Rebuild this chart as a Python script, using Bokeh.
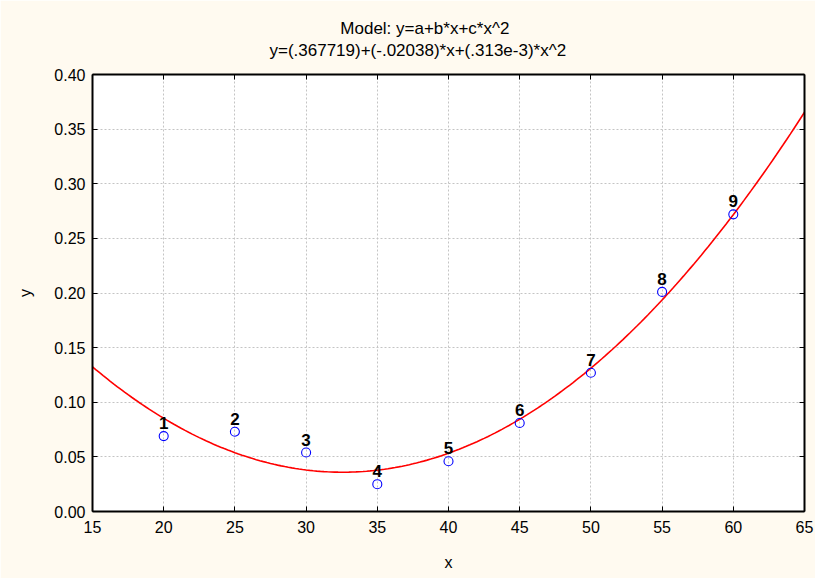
from bokeh.plotting import figure
from bokeh.models import (Range1d, LinearAxis, Title, ColumnDataSource, FixedTicker,
                          Grid, CustomJSTickFormatter)
from bokeh.core.properties import value
from bokeh.embed import file_html
from bokeh.resources import INLINE

# data
x_obs = [20, 25, 30, 35, 40, 45, 50, 55, 60]
y_obs = [0.069, 0.073, 0.054, 0.025, 0.046, 0.081, 0.127, 0.201, 0.272]
point_labels = ["1", "2", "3", "4", "5", "6", "7", "8", "9"]
# fitted model coefficients (from the title)
coef_a = 0.367719
coef_b = -0.02038
coef_c = 0.313e-3
title_lines = ["Model: y=a+b*x+c*x^2", "y=(.367719)+(-.02038)*x+(.313e-3)*x^2"]
x_ticks = [15, 20, 25, 30, 35, 40, 45, 50, 55, 60, 65]
y_ticks = [0.0, 0.05, 0.10, 0.15, 0.20, 0.25, 0.30, 0.35, 0.40]

FONT = "Liberation Sans"
NB = "\u00a0"

p = figure(width=815, height=578, output_backend="svg", toolbar_location=None,
           x_range=Range1d(15, 65), y_range=Range1d(0, 0.40),
           x_axis_type=None, y_axis_type=None,
           min_border_left=92, min_border_right=11, min_border_top=74, min_border_bottom=67)
p.border_fill_color = "#fffaf0"
p.background_fill_color = "white"
p.outline_line_color = None

bx = LinearAxis(ticker=FixedTicker(ticks=x_ticks), axis_label="x")
ly = LinearAxis(ticker=FixedTicker(ticks=y_ticks), axis_label="y")
tx = LinearAxis(ticker=FixedTicker(ticks=x_ticks))
ry = LinearAxis(ticker=FixedTicker(ticks=y_ticks))
for ax in (bx, ly, tx, ry):
    ax.axis_line_color = "black"
    ax.axis_line_width = 2
    ax.major_tick_in = 5
    ax.major_tick_out = 0
    ax.major_tick_line_color = "black"
    ax.minor_tick_line_color = None
    ax.major_label_text_font = FONT
    ax.major_label_text_font_size = "16px"
    ax.major_label_text_color = "black"
    ax.axis_label_text_font = FONT
    ax.axis_label_text_font_size = "16px"
    ax.axis_label_text_font_style = "normal"
    ax.axis_label_text_color = "black"
for ax in (tx, ry):
    ax.formatter = CustomJSTickFormatter(code="return '';")
    ax.major_label_standoff = 0
bx.major_label_standoff = 9
bx.axis_label_standoff = 18
ly.major_label_standoff = 7
ly.axis_label_standoff = 17
ly.formatter = CustomJSTickFormatter(code="return tick.toFixed(2);")
p.add_layout(bx, "below")
p.add_layout(ly, "left")
p.add_layout(tx, "above")
p.add_layout(ry, "right")

for dim, tk in ((0, x_ticks), (1, y_ticks)):
    g = Grid(dimension=dim, ticker=FixedTicker(ticks=tk))
    g.grid_line_color = "#c4c4c4"
    g.grid_line_dash = "2 2"
    g.grid_line_width = 1
    p.add_layout(g)

# two-line title; non-breaking spaces centre the first line over the second
# and move the block toward the canvas centre as in the reference
line1 = NB * 15 + title_lines[0]
line2 = title_lines[1] + NB * 13
t = Title(text=line1 + "\n" + line2, align="center",
          text_font=FONT, text_font_size="17px", text_font_style="normal",
          text_color="black", text_line_height=1.15, standoff=29)
p.add_layout(t, "above")

# fitted curve from the model coefficients
n = 201
xc = [15 + (65 - 15) * i / (n - 1) for i in range(n)]
yc = [coef_a + coef_b * x + coef_c * x * x for x in xc]
p.line(xc, yc, line_color="red", line_width=1.6)

src = ColumnDataSource(dict(x=x_obs, y=y_obs, lab=point_labels))
p.scatter("x", "y", source=src, size=9, marker="circle", fill_color=None,
          line_color="#0000ff", line_width=1.1)
p.text("x", "y", text="lab", source=src, text_font=value(FONT), text_font_size="17px",
       text_font_style="bold", text_color="black", text_align="center",
       text_baseline="bottom", y_offset=-7)

open("out.html", "w").write(file_html(p, INLINE))
